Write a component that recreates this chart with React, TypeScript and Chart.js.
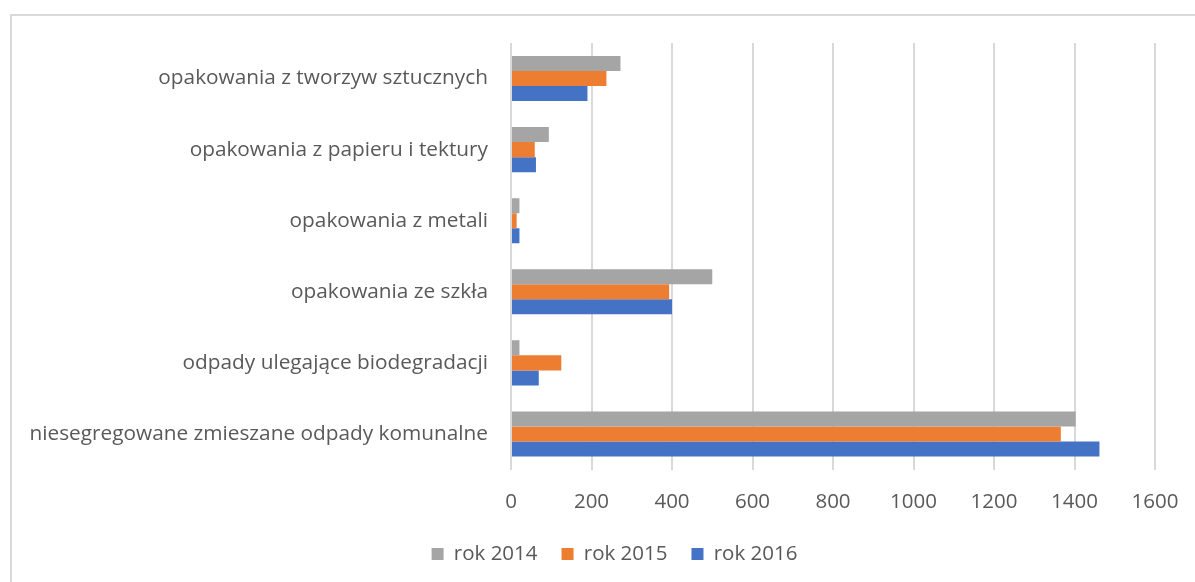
import React, { useEffect, useRef } from "react";
import { Chart, registerables } from "chart.js";

Chart.register(...registerables);

const categories = [
  "opakowania z tworzyw sztucznych",
  "opakowania z papieru i tektury",
  "opakowania z metali",
  "opakowania ze szkła",
  "odpady ulegające biodegradacji",
  "niesegregowane zmieszane odpady komunalne",
];
const seriesNames = ["rok 2014", "rok 2015", "rok 2016"];
const values2014 = [272, 94, 21, 500, 21, 1403];
const values2015 = [237, 59, 14, 393, 125, 1366];
const values2016 = [190, 62, 21, 400, 69, 1462];
const colors = ["#A5A5A5", "#ED7D31", "#4472C4"];
const xMin = 0;
const xMax = 1600;
const xStep = 200;

const FONT = "'Open Sans', 'Noto Sans', sans-serif";
const TEXT = "#595959";
const FS = 20.5;

const borderPlugin = {
  id: "frame",
  beforeDraw(chart: any) {
    const ctx = chart.ctx;
    ctx.save();
    ctx.fillStyle = "#ffffff";
    ctx.fillRect(0, 0, chart.width, chart.height);
    ctx.strokeStyle = "#d9d9d9";
    ctx.lineWidth = 2;
    ctx.beginPath();
    ctx.moveTo(11, chart.height);
    ctx.lineTo(11, 15);
    ctx.lineTo(chart.width, 15);
    ctx.stroke();
    ctx.restore();
  },
};

const legendShiftPlugin = {
  id: "legendShift",
  afterLayout(chart: any) {
    const lg = chart.legend;
    if (lg) {
      lg.left += 27;
      lg.right += 27;
    }
  },
};

export default function App() {
  const ref = useRef<HTMLCanvasElement>(null);
  useEffect(() => {
    if (!ref.current) return;
    const chart = new Chart(ref.current, {
      type: "bar",
      data: {
        labels: categories,
        datasets: [values2014, values2015, values2016].map((d, i) => ({
          label: seriesNames[i],
          data: d,
          backgroundColor: colors[i],
          borderWidth: 0,
          categoryPercentage: 0.634,
          barPercentage: 1,
        })),
      },
      options: {
        indexAxis: "y",
        responsive: false,
        animation: false,
        layout: { padding: { left: 20, right: 40, top: 43, bottom: 7.75 } },
        scales: {
          x: {
            min: xMin,
            max: xMax,
            ticks: {
              stepSize: xStep,
              color: TEXT,
              font: { family: FONT, size: FS },
              padding: 20,
              callback: (v: any) => String(v),
            },
            grid: { color: "#d9d9d9", lineWidth: 2, drawTicks: false },
            border: { display: false },
            afterFit(scale: any) {
              scale.height = 50.25;
              scale.paddingRight = 0;
              scale.paddingLeft = 0;
            },
          },
          y: {
            ticks: {
              color: TEXT,
              font: { family: FONT, size: 20.8 },
              padding: 15,
            },
            grid: { display: false },
            border: { display: false },
            afterFit(scale: any) {
              scale.width = 491;
            },
          },
        },
        plugins: {
          legend: {
            position: "bottom",
            labels: {
              color: TEXT,
              font: { family: FONT, size: FS },
              boxWidth: 12,
              boxHeight: 12,
              padding: 24,
            },
          },
          tooltip: { enabled: false },
        },
      },
      plugins: [borderPlugin, legendShiftPlugin],
    });
    return () => chart.destroy();
  }, []);
  return (
    <div style={{ position: "fixed", left: 0, top: 0, width: 1195, height: 582 }}>
      <canvas ref={ref} width={1195} height={582} style={{ display: "block" }} />
    </div>
  );
}
